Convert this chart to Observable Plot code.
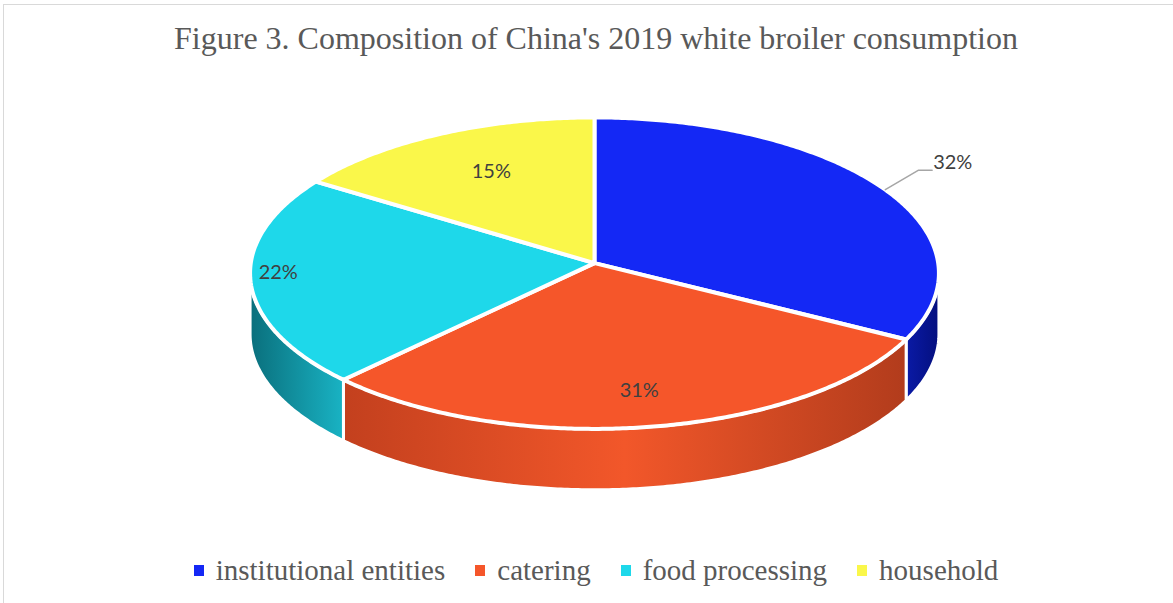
<!DOCTYPE html>
<html><head><meta charset="utf-8">
<script src="https://cdn.jsdelivr.net/npm/d3@7"></script>
<script src="https://cdn.jsdelivr.net/npm/@observablehq/plot@0.6"></script>
<style>
html,body{margin:0;padding:0;background:#fff;overflow:hidden;}
#frame{position:absolute;left:3px;top:4px;width:1186px;height:610px;border:1px solid #d9d9d9;box-sizing:border-box;}
#title{height:66px;line-height:66px;text-align:center;font-family:"Liberation Serif","Times New Roman",serif;font-size:32px;color:#595959;white-space:nowrap;}
#chart{height:470px;}
#legend{height:58px;display:flex;justify-content:center;align-items:center;font-family:"Liberation Serif","Times New Roman",serif;font-size:29px;color:#595959;}
.item{display:flex;align-items:center;margin:0 15px;}
.sw{width:10px;height:11px;margin-right:12px;}
</style></head><body>
<div id="frame"><div id="title"></div><div id="chart"></div><div id="legend"></div></div>
<script>
// ---- data ----
const title = "Figure 3. Composition of China's 2019 white broiler consumption";
const categories = ["institutional entities", "catering", "food processing", "household"];
const values = [32, 31, 22, 15];
const labels = ["32%", "31%", "22%", "15%"];
const topColors = ["#1428F5", "#F5562A", "#1ED8EA", "#FAF74A"];
const sideStops = [
  [["0%", "#0a1aa6"], ["100%", "#040f7e"]],
  [["0%", "#c3401e"], ["50%", "#f2572a"], ["100%", "#b23c1c"]],
  [["0%", "#0a6f7c"], ["100%", "#19b3c4"]],
  [["0%", "#d8d640"], ["100%", "#f0ee48"]]
];

// ---- layout ----
const W = 1186, H = 470;
const cx = 591, cy = 202, apexY = 192, rx = 345, ry = 156, depth = 61;
const labelRadius = [1.113, 0.83, 0.92, 0.66];

document.getElementById("title").textContent = title;

const total = d3.sum(values);
let acc = 0;
const slices = values.map((v, i) => {
  const a0 = acc / total * 2 * Math.PI;
  acc += v;
  const a1 = acc / total * 2 * Math.PI;
  return {i, a0, a1};
});
const pt = (t, f = 1, dy = 0, c = cy) => ({x: cx + rx * f * Math.sin(t), y: c - ry * f * Math.cos(t) + dy});
const arc = (t0, t1, dy = 0) => {
  const n = Math.max(2, Math.ceil(Math.abs(t1 - t0) / 0.01));
  return d3.range(n + 1).map(k => pt(t0 + (t1 - t0) * k / n, 1, dy));
};

const tops = slices.map(s => [{x: cx, y: apexY}, ...arc(s.a0, s.a1)]);
const sides = slices.map(s => {
  const s0 = Math.max(s.a0, Math.PI / 2), s1 = Math.min(s.a1, 3 * Math.PI / 2);
  if (s0 >= s1) return null;
  return [...arc(s0, s1), ...arc(s1, s0, depth)];
});

const mid = slices.map(s => (s.a0 + s.a1) / 2);
const inside = slices.slice(1).map(s => {
  const p = pt(mid[s.i], labelRadius[s.i], 0, apexY);
  return {x: p.x, y: p.y, text: labels[s.i]};
});
const edge = pt(mid[0], 1, 0, cy);
const elbow = pt(mid[0], labelRadius[0], 0, apexY);
const leader = [edge, elbow, {x: elbow.x + 14, y: elbow.y}];
const outside = [{x: elbow.x + 14, y: elbow.y, text: labels[0]}];

const marks = [];
sides.forEach((p, i) => { if (p) marks.push(Plot.line(p, {x: "x", y: "y", curve: "linear-closed", fill: `url(#side${i})`, stroke: "white", strokeWidth: 3, strokeLinejoin: "round"})); });
tops.forEach((p, i) => marks.push(Plot.line(p, {x: "x", y: "y", curve: "linear-closed", fill: topColors[i], stroke: "white", strokeWidth: 4, strokeLinejoin: "round"})));
marks.push(Plot.line(leader, {x: "x", y: "y", stroke: "#a6a6a6", strokeWidth: 1.5}));
marks.push(Plot.text(inside, {x: "x", y: "y", text: "text", fontSize: 20, fill: "#404040", fontFamily: "Lato, 'Open Sans', sans-serif", textAnchor: "middle", lineAnchor: "middle"}));
marks.push(Plot.text(outside, {x: "x", y: "y", text: "text", fontSize: 20, fill: "#404040", fontFamily: "Lato, 'Open Sans', sans-serif", textAnchor: "start", lineAnchor: "middle", dy: -8, dx: 1}));

const svg = Plot.plot({
  width: W, height: H, margin: 0,
  x: {domain: [0, W], range: [0, W], axis: null},
  y: {domain: [0, H], range: [0, H], axis: null},
  marks
});
const defs = d3.select(svg).insert("defs", ":first-child");
sideStops.forEach((stops, i) => {
  const g = defs.append("linearGradient").attr("id", `side${i}`).attr("x1", "0").attr("x2", "1").attr("y1", "0").attr("y2", "0");
  stops.forEach(([o, c]) => g.append("stop").attr("offset", o).attr("stop-color", c));
});
document.getElementById("chart").appendChild(svg);

const legend = d3.select("#legend");
categories.forEach((c, i) => {
  const it = legend.append("div").attr("class", "item");
  it.append("div").attr("class", "sw").style("background", topColors[i]);
  it.append("span").text(c);
});
</script>
</body></html>
